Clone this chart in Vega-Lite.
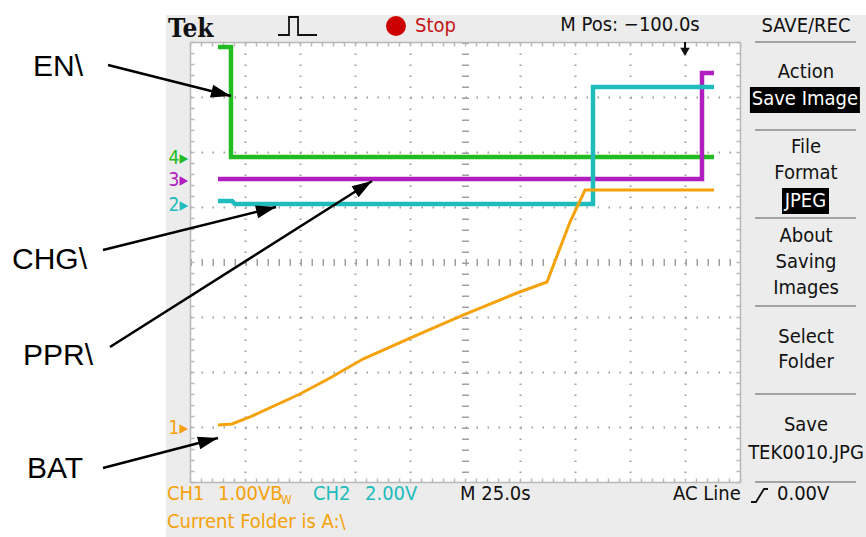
{
  "$schema": "https://vega.github.io/schema/vega-lite/v6.json",
  "width": 550,
  "height": 440,
  "autosize": {"type": "none"},
  "padding": {"left": 190, "top": 42, "right": 126, "bottom": 55},
  "background": "#ececec",
  "view": {"fill": "white", "stroke": null},
  "datasets": {
    "traces": [
      {"ch": "CH4", "t": 0.509, "v": 7.909},
      {"ch": "CH4", "t": 0.745, "v": 7.909},
      {"ch": "CH4", "t": 0.745, "v": 5.909},
      {"ch": "CH4", "t": 9.527, "v": 5.909},
      {"ch": "CH3", "t": 0.509, "v": 5.509},
      {"ch": "CH3", "t": 9.309, "v": 5.509},
      {"ch": "CH3", "t": 9.309, "v": 7.436},
      {"ch": "CH3", "t": 9.527, "v": 7.436},
      {"ch": "CH2", "t": 0.509, "v": 5.109},
      {"ch": "CH2", "t": 0.764, "v": 5.109},
      {"ch": "CH2", "t": 0.818, "v": 5.055},
      {"ch": "CH2", "t": 7.327, "v": 5.055},
      {"ch": "CH2", "t": 7.327, "v": 7.182},
      {"ch": "CH2", "t": 9.527, "v": 7.182},
      {"ch": "CH1", "t": 0.509, "v": 1.036},
      {"ch": "CH1", "t": 0.764, "v": 1.055},
      {"ch": "CH1", "t": 1.091, "v": 1.182},
      {"ch": "CH1", "t": 2.0, "v": 1.6},
      {"ch": "CH1", "t": 2.545, "v": 1.891},
      {"ch": "CH1", "t": 3.145, "v": 2.236},
      {"ch": "CH1", "t": 4.0, "v": 2.618},
      {"ch": "CH1", "t": 4.964, "v": 3.036},
      {"ch": "CH1", "t": 5.945, "v": 3.436},
      {"ch": "CH1", "t": 6.491, "v": 3.636},
      {"ch": "CH1", "t": 6.909, "v": 4.727},
      {"ch": "CH1", "t": 7.182, "v": 5.309},
      {"ch": "CH1", "t": 9.527, "v": 5.309}
    ],
    "menu": [
      {"label": "SAVE/REC", "x": 11.2, "y": 8.291},
      {"label": "Action", "x": 11.2, "y": 7.455},
      {"label": "File", "x": 11.2, "y": 6.091},
      {"label": "Format", "x": 11.2, "y": 5.618},
      {"label": "About", "x": 11.2, "y": 4.473},
      {"label": "Saving", "x": 11.2, "y": 4.0},
      {"label": "Images", "x": 11.2, "y": 3.527},
      {"label": "Select", "x": 11.2, "y": 2.636},
      {"label": "Folder", "x": 11.2, "y": 2.182},
      {"label": "Save", "x": 11.2, "y": 1.036},
      {"label": "TEK0010.JPG", "x": 11.2, "y": 0.527},
      {"label": "M Pos: −100.0s", "x": 8.0, "y": 8.309}
    ],
    "menuInv": [
      {"label": "Save Image", "x": 11.18, "y": 6.964},
      {"label": "JPEG", "x": 11.19, "y": 5.109}
    ],
    "boxes": [
      {"x": 10.18, "x2": 12.18, "y": 6.709, "y2": 7.18},
      {"x": 10.764, "x2": 11.618, "y": 4.873, "y2": 5.345}
    ],
    "seps": [{"y": 8}, {"y": 6.4}, {"y": 4.8}, {"y": 3.2}, {"y": 1.6}, {"y": 0}],
    "markers": [
      {"ch": "CH4", "label": "4▸", "y": 5.891},
      {"ch": "CH3", "label": "3▸", "y": 5.491},
      {"ch": "CH2", "label": "2▸", "y": 5.036},
      {"ch": "CH1", "label": "1▸", "y": 0.982}
    ],
    "bottomColored": [
      {"ch": "CH1", "label": "CH1", "x": -0.418, "y": -0.218},
      {"ch": "CH1", "label": "1.00VB", "x": 0.509, "y": -0.218},
      {"ch": "CH2", "label": "CH2", "x": 2.236, "y": -0.218},
      {"ch": "CH2", "label": "2.00V", "x": 3.182, "y": -0.218},
      {"ch": "CH1", "label": "Current Folder is A:\\", "x": -0.418, "y": -0.727}
    ],
    "bottomBlack": [
      {"label": "M 25.0s", "x": 4.909, "y": -0.218},
      {"label": "AC Line", "x": 8.782, "y": -0.218},
      {"label": "0.00V", "x": 10.673, "y": -0.218}
    ],
    "icons": [
      {"g": "trig", "x": 1.6, "y": 8.127},
      {"g": "trig", "x": 1.8, "y": 8.127},
      {"g": "trig", "x": 1.8, "y": 8.455},
      {"g": "trig", "x": 1.964, "y": 8.455},
      {"g": "trig", "x": 1.964, "y": 8.127},
      {"g": "trig", "x": 2.309, "y": 8.127},
      {"g": "slope", "x": 10.2, "y": -0.364},
      {"g": "slope", "x": 10.291, "y": -0.364},
      {"g": "slope", "x": 10.436, "y": -0.127},
      {"g": "slope", "x": 10.509, "y": -0.127}
    ],
    "notes": [
      {"label": "EN\\", "x": -2.855, "y": 7.545},
      {"label": "CHG\\", "x": -3.236, "y": 4.036},
      {"label": "PPR\\", "x": -3.036, "y": 2.291},
      {"label": "BAT", "x": -2.964, "y": 0.236}
    ],
    "arrows": [
      {"x": -1.491, "y": 7.582, "x2": 0.745, "y2": 7.018},
      {"x": -1.582, "y": 4.218, "x2": 1.564, "y2": 5.0},
      {"x": -1.455, "y": 2.455, "x2": 3.309, "y2": 5.473},
      {"x": -1.582, "y": 0.255, "x2": 0.509, "y2": 0.8}
    ]
  },
  "layer": [
    {
      "data": {"values": [{}]},
      "mark": {"type": "rect", "color": "white"},
      "encoding": {
        "x": {"datum": -3.6, "type": "quantitative", "axis": null},
        "x2": {"datum": -0.436},
        "y": {"datum": -1.2, "type": "quantitative", "axis": null},
        "y2": {"datum": 8.9}
      }
    },
    {
      "data": {"values": [{}]},
      "mark": {"type": "rect", "color": "white"},
      "encoding": {
        "x": {"datum": -3.6, "type": "quantitative", "axis": null},
        "x2": {"datum": 12.5},
        "y": {"datum": 8.491, "type": "quantitative", "axis": null},
        "y2": {"datum": 8.9}
      }
    },
    {
      "data": {"name": "boxes"},
      "mark": {"type": "rect", "color": "black"},
      "encoding": {
        "x": {"field": "x", "type": "quantitative", "axis": null},
        "x2": {"field": "x2"},
        "y": {"field": "y", "type": "quantitative", "axis": null},
        "y2": {"field": "y2"}
      }
    },
    {
      "data": {"name": "seps"},
      "mark": {"type": "rule", "color": "#a3a3a3", "strokeWidth": 2},
      "encoding": {
        "x": {"datum": 10.273, "type": "quantitative", "axis": null},
        "x2": {"datum": 12.109},
        "y": {"field": "y", "type": "quantitative", "axis": null}
      }
    },
    {
      "data": {"name": "traces"},
      "transform": [{"filter": "datum.ch !== 'CH1'"}],
      "mark": {"type": "line", "strokeWidth": 4.5, "strokeJoin": "miter", "strokeCap": "butt"},
      "encoding": {
        "x": {
          "field": "t", "type": "quantitative",
          "scale": {"domain": [0, 10], "nice": false, "zero": false},
          "axis": {
            "orient": "bottom",
            "values": [0,0.2,0.4,0.6,0.8,1,1.2,1.4,1.6,1.8,2,2.2,2.4,2.6,2.8,3,3.2,3.4,3.6,3.8,4,4.2,4.4,4.6,4.8,5,5.2,5.4,5.6,5.8,6,6.2,6.4,6.6,6.8,7,7.2,7.4,7.6,7.8,8,8.2,8.4,8.6,8.8,9,9.2,9.4,9.6,9.8,10],
            "labels": false, "title": null,
            "domain": true, "domainColor": "#b8b8b8", "domainWidth": 1.5,
            "ticks": true, "tickSize": -4, "tickColor": "#b8b8b8", "tickWidth": 1.5,
            "grid": true, "gridColor": "#a0a0a0", "gridDash": [1.5, 9.5],
            "gridWidth": {"condition": {"test": "datum.value === 5", "value": 7}, "value": 2},
            "gridOpacity": {"condition": {"test": "datum.value % 1 === 0 && datum.value > 0 && datum.value < 10", "value": 1}, "value": 0}
          }
        },
        "y": {
          "field": "v", "type": "quantitative",
          "scale": {"domain": [0, 8], "nice": false, "zero": false},
          "axis": {
            "orient": "left",
            "values": [0,0.2,0.4,0.6,0.8,1,1.2,1.4,1.6,1.8,2,2.2,2.4,2.6,2.8,3,3.2,3.4,3.6,3.8,4,4.2,4.4,4.6,4.8,5,5.2,5.4,5.6,5.8,6,6.2,6.4,6.6,6.8,7,7.2,7.4,7.6,7.8,8],
            "labels": false, "title": null,
            "domain": true, "domainColor": "#b8b8b8", "domainWidth": 1.5,
            "ticks": true, "tickSize": -4, "tickColor": "#b8b8b8", "tickWidth": 1.5,
            "grid": true, "gridColor": "#a0a0a0", "gridDash": [1.5, 9.5],
            "gridWidth": {"condition": {"test": "datum.value === 4", "value": 7}, "value": 2},
            "gridOpacity": {"condition": {"test": "datum.value % 1 === 0 && datum.value > 0 && datum.value < 8", "value": 1}, "value": 0}
          }
        },
        "color": {
          "field": "ch", "type": "nominal",
          "scale": {"domain": ["CH1", "CH2", "CH3", "CH4"], "range": ["#f5a20a", "#20bcbc", "#b01ec0", "#22bb22"]},
          "legend": null
        },
        "order": {"value": null}
      }
    },
    {
      "data": {"name": "traces"},
      "transform": [{"filter": "datum.ch === 'CH1'"}],
      "mark": {"type": "line", "strokeWidth": 3, "strokeJoin": "miter"},
      "encoding": {
        "x": {
          "field": "t", "type": "quantitative",
          "axis": {
            "orient": "top",
            "values": [0,0.2,0.4,0.6,0.8,1,1.2,1.4,1.6,1.8,2,2.2,2.4,2.6,2.8,3,3.2,3.4,3.6,3.8,4,4.2,4.4,4.6,4.8,5,5.2,5.4,5.6,5.8,6,6.2,6.4,6.6,6.8,7,7.2,7.4,7.6,7.8,8,8.2,8.4,8.6,8.8,9,9.2,9.4,9.6,9.8,10],
            "labels": false, "title": null, "grid": false,
            "domain": true, "domainColor": "#b8b8b8", "domainWidth": 1.5,
            "ticks": true, "tickSize": -4, "tickColor": "#b8b8b8", "tickWidth": 1.5
          }
        },
        "y": {
          "field": "v", "type": "quantitative",
          "axis": {
            "orient": "right",
            "values": [0,0.2,0.4,0.6,0.8,1,1.2,1.4,1.6,1.8,2,2.2,2.4,2.6,2.8,3,3.2,3.4,3.6,3.8,4,4.2,4.4,4.6,4.8,5,5.2,5.4,5.6,5.8,6,6.2,6.4,6.6,6.8,7,7.2,7.4,7.6,7.8,8],
            "labels": false, "title": null, "grid": false,
            "domain": true, "domainColor": "#b8b8b8", "domainWidth": 1.5,
            "ticks": true, "tickSize": -4, "tickColor": "#b8b8b8", "tickWidth": 1.5
          }
        },
        "color": {"field": "ch", "type": "nominal", "legend": null},
        "order": {"value": null}
      }
    },
    {
      "data": {"name": "icons"},
      "mark": {"type": "line", "color": "#111", "strokeWidth": 1.8},
      "encoding": {
        "x": {"field": "x", "type": "quantitative", "axis": null},
        "y": {"field": "y", "type": "quantitative", "axis": null},
        "detail": {"field": "g"},
        "order": {"value": null}
      }
    },
    {
      "data": {"values": [{}]},
      "mark": {"type": "rule", "color": "#111", "strokeWidth": 2},
      "encoding": {
        "x": {"datum": 9.0, "type": "quantitative", "axis": null},
        "y": {"datum": 8.0, "type": "quantitative", "axis": null},
        "y2": {"datum": 7.86}
      }
    },
    {
      "data": {"values": [{}]},
      "mark": {"type": "point", "shape": "triangle-down", "filled": true, "color": "#111", "size": 90, "opacity": 1},
      "encoding": {
        "x": {"datum": 9.0, "type": "quantitative", "axis": null},
        "y": {"datum": 7.82, "type": "quantitative", "axis": null}
      }
    },
    {
      "data": {"values": [{}]},
      "mark": {"type": "point", "shape": "circle", "filled": true, "color": "#cc0000", "size": 400, "opacity": 1},
      "encoding": {
        "x": {"datum": 3.745, "type": "quantitative", "axis": null},
        "y": {"datum": 8.291, "type": "quantitative", "axis": null}
      }
    },
    {
      "data": {"values": [{}]},
      "mark": {"type": "text", "text": "Tek", "font": "DejaVu Serif Condensed, DejaVu Serif", "fontWeight": "bold", "fontSize": 26, "align": "left", "baseline": "alphabetic", "color": "#111"},
      "encoding": {
        "x": {"datum": -0.4, "type": "quantitative", "axis": null},
        "y": {"datum": 8.091, "type": "quantitative", "axis": null}
      }
    },
    {
      "data": {"values": [{}]},
      "mark": {"type": "text", "text": "Stop", "font": "DejaVu Sans Condensed, Liberation Sans Narrow, DejaVu Sans", "fontSize": 20, "align": "left", "baseline": "middle", "color": "#c41414"},
      "encoding": {
        "x": {"datum": 4.091, "type": "quantitative", "axis": null},
        "y": {"datum": 8.291, "type": "quantitative", "axis": null}
      }
    },
    {
      "data": {"name": "menu"},
      "mark": {"type": "text", "font": "DejaVu Sans Condensed, Liberation Sans Narrow, DejaVu Sans", "fontSize": 20, "align": "center", "baseline": "middle", "color": "#111"},
      "encoding": {
        "x": {"field": "x", "type": "quantitative", "axis": null},
        "y": {"field": "y", "type": "quantitative", "axis": null},
        "text": {"field": "label"}
      }
    },
    {
      "data": {"name": "menuInv"},
      "mark": {"type": "text", "font": "DejaVu Sans Condensed, Liberation Sans Narrow, DejaVu Sans", "fontSize": 20, "align": "center", "baseline": "middle", "color": "white"},
      "encoding": {
        "x": {"field": "x", "type": "quantitative", "axis": null},
        "y": {"field": "y", "type": "quantitative", "axis": null},
        "text": {"field": "label"}
      }
    },
    {
      "data": {"name": "markers"},
      "mark": {"type": "text", "font": "DejaVu Sans Condensed, Liberation Sans Narrow, DejaVu Sans", "fontSize": 19, "align": "right", "baseline": "middle"},
      "encoding": {
        "x": {"datum": -0.036, "type": "quantitative", "axis": null},
        "y": {"field": "y", "type": "quantitative", "axis": null},
        "text": {"field": "label"},
        "color": {"field": "ch", "type": "nominal", "legend": null}
      }
    },
    {
      "data": {"name": "bottomColored"},
      "mark": {"type": "text", "font": "DejaVu Sans Condensed, Liberation Sans Narrow, DejaVu Sans", "fontSize": 20, "align": "left", "baseline": "middle"},
      "encoding": {
        "x": {"field": "x", "type": "quantitative", "axis": null},
        "y": {"field": "y", "type": "quantitative", "axis": null},
        "text": {"field": "label"},
        "color": {"field": "ch", "type": "nominal", "legend": null}
      }
    },
    {
      "data": {"values": [{}]},
      "mark": {"type": "text", "text": "W", "font": "DejaVu Sans Condensed, Liberation Sans Narrow, DejaVu Sans", "fontSize": 12, "align": "left", "baseline": "middle", "color": "#f5a20a"},
      "encoding": {
        "x": {"datum": 1.655, "type": "quantitative", "axis": null},
        "y": {"datum": -0.33, "type": "quantitative", "axis": null}
      }
    },
    {
      "data": {"name": "bottomBlack"},
      "mark": {"type": "text", "font": "DejaVu Sans Condensed, Liberation Sans Narrow, DejaVu Sans", "fontSize": 20, "align": "left", "baseline": "middle", "color": "#111"},
      "encoding": {
        "x": {"field": "x", "type": "quantitative", "axis": null},
        "y": {"field": "y", "type": "quantitative", "axis": null},
        "text": {"field": "label"}
      }
    },
    {
      "data": {"name": "notes"},
      "mark": {"type": "text", "font": "Liberation Sans, Arial", "fontSize": 30, "align": "left", "baseline": "middle", "color": "black"},
      "encoding": {
        "x": {"field": "x", "type": "quantitative", "axis": null},
        "y": {"field": "y", "type": "quantitative", "axis": null},
        "text": {"field": "label"}
      }
    },
    {
      "data": {"name": "arrows"},
      "mark": {"type": "rule", "color": "black", "strokeWidth": 2.5},
      "encoding": {
        "x": {"field": "x", "type": "quantitative", "axis": null},
        "y": {"field": "y", "type": "quantitative", "axis": null},
        "x2": {"field": "x2"},
        "y2": {"field": "y2"}
      }
    },
    {
      "data": {"name": "arrows"},
      "transform": [{"calculate": "atan2(datum.x2 - datum.x, datum.y2 - datum.y) * 180 / PI", "as": "ang"}],
      "mark": {"type": "point", "shape": "M0,0L0.65,2L-0.65,2Z", "filled": true, "color": "black", "size": 400, "opacity": 1, "strokeWidth": 0},
      "encoding": {
        "x": {"field": "x2", "type": "quantitative", "axis": null},
        "y": {"field": "y2", "type": "quantitative", "axis": null},
        "angle": {"field": "ang", "type": "quantitative", "scale": null}
      }
    }
  ],
  "resolve": {"axis": {"x": "independent", "y": "independent"}}
}
